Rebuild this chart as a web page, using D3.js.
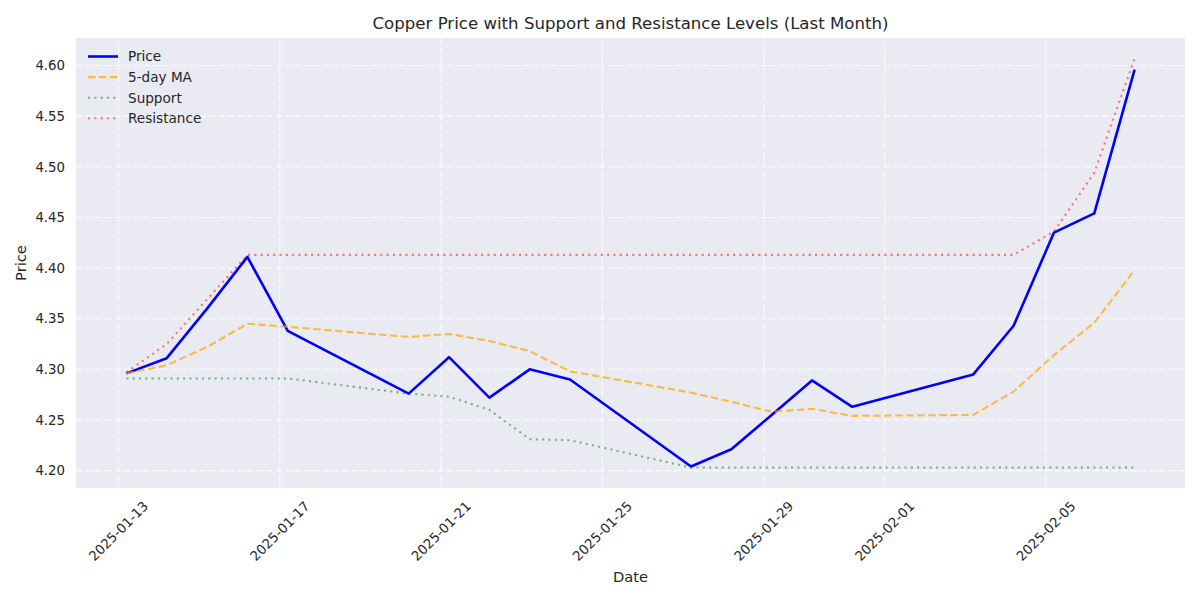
<!DOCTYPE html>
<html>
<head>
<meta charset="utf-8">
<script src="https://cdn.jsdelivr.net/npm/d3@7"></script>
<style>
	body { margin: 0; background: #fff; }
	text { font-family: "DejaVu Sans", sans-serif; fill: #262626; }
</style>
</head>
<body>
<div id="chart"></div>
<script>
// data
var dates = ["2025-01-13", "2025-01-14", "2025-01-15", "2025-01-16", "2025-01-17",
			"2025-01-20", "2025-01-21", "2025-01-22", "2025-01-23", "2025-01-24",
			"2025-01-27", "2025-01-28", "2025-01-29", "2025-01-30", "2025-01-31",
			"2025-02-03", "2025-02-04", "2025-02-05", "2025-02-06", "2025-02-07"];
var sampleTime = "04:48";

var price = [4.296, 4.311, 4.360, 4.411, 4.338, 4.276, 4.312, 4.272, 4.300, 4.290,
			4.204, 4.221, 4.255, 4.289, 4.263, 4.295, 4.343, 4.435, 4.454, 4.596];

var ma5 = [4.296, 4.304, 4.322, 4.345, 4.342, 4.332, 4.335, 4.328, 4.318, 4.298,
			4.277, 4.268, 4.258, 4.261, 4.254, 4.255, 4.278, 4.314, 4.346, 4.398];

var support = [4.291, 4.291, 4.291, 4.291, 4.291, 4.276, 4.273, 4.260, 4.231, 4.230,
			4.203, 4.203, 4.203, 4.203, 4.203, 4.203, 4.203, 4.203, 4.203, 4.203];

var resistance = [4.297, 4.325, 4.369, 4.413, 4.413, 4.413, 4.413, 4.413, 4.413, 4.413,
			4.413, 4.413, 4.413, 4.413, 4.413, 4.413, 4.413, 4.436, 4.494, 4.607];

var xTickDates = ["2025-01-13", "2025-01-17", "2025-01-21", "2025-01-25",
			"2025-01-29", "2025-02-01", "2025-02-05"];
var yTicks = [4.20, 4.25, 4.30, 4.35, 4.40, 4.45, 4.50, 4.55, 4.60];

var seriesNames = ["Price", "5-day MA", "Support", "Resistance"];
var seriesValues = [price, ma5, support, resistance];

var styles = [
	{ color: "#0000ff", opacity: 1, width: 2.6, dash: null },
	{ color: "#ffa500", opacity: 0.7, width: 2.1, dash: "7.5,3.5" },
	{ color: "#008000", opacity: 0.5, width: 2.1, dash: "2.1,4.2" },
	{ color: "#ff0000", opacity: 0.5, width: 2.1, dash: "2.1,4.2" }
];

var W = 1200, H = 600;
var plotLeft = 76, plotRight = 1185, plotTop = 38, plotBottom = 488;

var parseTime = d3.timeParse("%Y-%m-%d %H:%M");
var parseDay = d3.timeParse("%Y-%m-%d");
var times = dates.map(function(d) { return parseTime(d + " " + sampleTime); });

// matplotlib style 5% margins
var tExt = d3.extent(times);
var tPad = (tExt[1] - tExt[0]) * 0.05;
var allVals = d3.merge(seriesValues);
var vMin = d3.min(allVals), vMax = d3.max(allVals);
var vPad = (vMax - vMin) * 0.05;

var xScale = d3.scaleTime()
				.domain([new Date(+tExt[0] - tPad), new Date(+tExt[1] + tPad)])
				.range([plotLeft, plotRight]);

var yScale = d3.scaleLinear()
				.domain([vMin - vPad, vMax + vPad])
				.range([plotBottom, plotTop]);

var svg = d3.select("#chart").append("svg")
			.attr("width", W)
			.attr("height", H);

svg.append("rect")
	.attr("x", plotLeft)
	.attr("y", plotTop)
	.attr("width", plotRight - plotLeft)
	.attr("height", plotBottom - plotTop)
	.style("fill", "#eaeaf2");

// grid
svg.append("g").selectAll("line")
	.data(xTickDates)
	.enter().append("line")
		.attr("x1", function(d) { return xScale(parseDay(d)); })
		.attr("x2", function(d) { return xScale(parseDay(d)); })
		.attr("y1", plotTop)
		.attr("y2", plotBottom)
		.style("stroke", "#fff")
		.style("stroke-width", 1.1)
		.style("stroke-opacity", 0.85)
		.style("stroke-dasharray", "6.5,3");

svg.append("g").selectAll("line")
	.data(yTicks)
	.enter().append("line")
		.attr("x1", plotLeft)
		.attr("x2", plotRight)
		.attr("y1", function(d) { return yScale(d); })
		.attr("y2", function(d) { return yScale(d); })
		.style("stroke", "#fff")
		.style("stroke-width", 1.1)
		.style("stroke-opacity", 0.85)
		.style("stroke-dasharray", "6.5,3");

// series
var line = d3.line()
			.x(function(d, i) { return xScale(times[i]); })
			.y(function(d) { return yScale(d); });

svg.append("g").selectAll("path")
	.data(seriesValues)
	.enter().append("path")
		.attr("d", function(d) { return line(d); })
		.style("fill", "none")
		.style("stroke", function(d, i) { return styles[i].color; })
		.style("stroke-opacity", function(d, i) { return styles[i].opacity; })
		.style("stroke-width", function(d, i) { return styles[i].width; })
		.style("stroke-dasharray", function(d, i) { return styles[i].dash; })
		.style("stroke-linejoin", "round");

// y tick labels
svg.append("g").selectAll("text")
	.data(yTicks)
	.enter().append("text")
		.attr("x", 65)
		.attr("y", function(d) { return yScale(d); })
		.attr("dy", "0.36em")
		.attr("text-anchor", "end")
		.style("font-size", "13.3px")
		.text(function(d) { return d3.format(".2f")(d); });

// x tick labels, rotated 45 and centred under the tick
svg.append("g").selectAll("text")
	.data(xTickDates)
	.enter().append("text")
		.attr("transform", function(d) {
			return "translate(" + xScale(parseDay(d)) + ",531) rotate(-45)";
		})
		.attr("dy", "0.36em")
		.attr("text-anchor", "middle")
		.style("font-size", "13.3px")
		.text(function(d) { return d; });

// axis labels and title
svg.append("text")
	.attr("x", (plotLeft + plotRight) / 2)
	.attr("y", 582)
	.attr("text-anchor", "middle")
	.style("font-size", "14.7px")
	.text("Date");

svg.append("text")
	.attr("transform", "translate(26," + (plotTop + plotBottom) / 2 + ") rotate(-90)")
	.attr("text-anchor", "middle")
	.style("font-size", "14.7px")
	.text("Price");

svg.append("text")
	.attr("x", (plotLeft + plotRight) / 2)
	.attr("y", 29)
	.attr("text-anchor", "middle")
	.style("font-size", "16.6px")
	.text("Copper Price with Support and Resistance Levels (Last Month)");

// legend
var legend = svg.append("g").selectAll("g")
				.data(seriesNames)
				.enter().append("g")
					.attr("transform", function(d, i) {
						return "translate(88," + (56.5 + i * 20.6) + ")";
					});

legend.append("line")
	.attr("x1", 0)
	.attr("x2", 30)
	.style("stroke", function(d, i) { return styles[i].color; })
	.style("stroke-opacity", function(d, i) { return styles[i].opacity; })
	.style("stroke-width", function(d, i) { return styles[i].width; })
	.style("stroke-dasharray", function(d, i) { return styles[i].dash; });

legend.append("text")
	.attr("x", 40)
	.attr("dy", "0.36em")
	.style("font-size", "13.6px")
	.text(function(d) { return d; });
</script>
</body>
</html>
